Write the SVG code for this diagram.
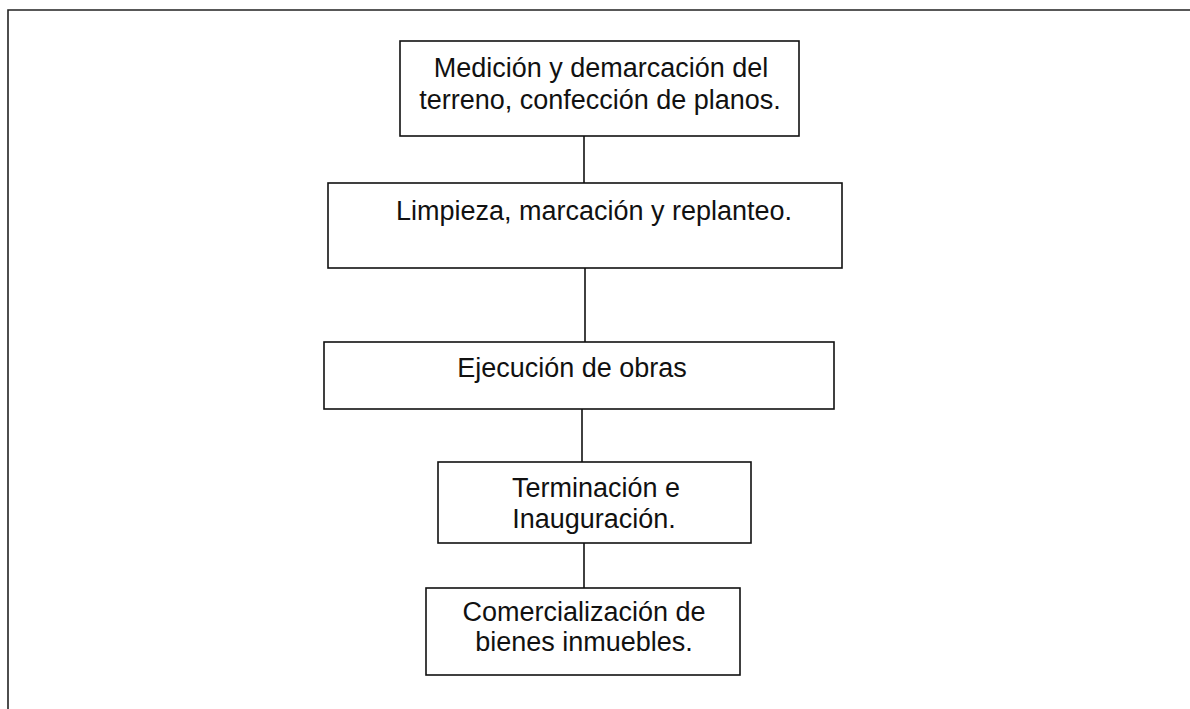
<svg xmlns="http://www.w3.org/2000/svg" width="1190" height="709" viewBox="0 0 1190 709">
<style>
.box{fill:#fff;stroke:#111;stroke-width:1.6}
.conn{stroke:#111;stroke-width:1.6;fill:none}
.frame{stroke:#222;stroke-width:1.6;fill:none}
text{font-family:"Liberation Sans",Arial,sans-serif;font-size:27px;fill:#111;text-anchor:middle}
</style>
<rect width="1190" height="709" fill="#fff"/>
<path class="frame" d="M8,709 V10 H1190"/>
<g id="connectors">
<line class="conn" x1="584" y1="136" x2="584" y2="183"/>
<line class="conn" x1="585" y1="268" x2="585" y2="342"/>
<line class="conn" x1="582" y1="409" x2="582" y2="462"/>
<line class="conn" x1="584" y1="543" x2="584" y2="590"/>
</g>
<g id="node1">
<rect class="box" x="400" y="41" width="399" height="95"/>
<text x="601" y="77">Medición y demarcación del</text>
<text x="600" y="109">terreno, confección de planos.</text>
</g>
<g id="node2">
<rect class="box" x="328" y="183" width="514" height="85"/>
<text x="594" y="220">Limpieza, marcación y replanteo.</text>
</g>
<g id="node3">
<rect class="box" x="324" y="342" width="510" height="67"/>
<text x="572" y="377">Ejecución de obras</text>
</g>
<g id="node4">
<rect class="box" x="438" y="462" width="313" height="81"/>
<text x="596" y="497">Terminación e</text>
<text x="594" y="528">Inauguración.</text>
</g>
<g id="node5">
<rect class="box" x="426" y="588" width="314" height="87"/>
<text x="584" y="621">Comercialización de</text>
<text x="584" y="651">bienes inmuebles.</text>
</g>
</svg>
